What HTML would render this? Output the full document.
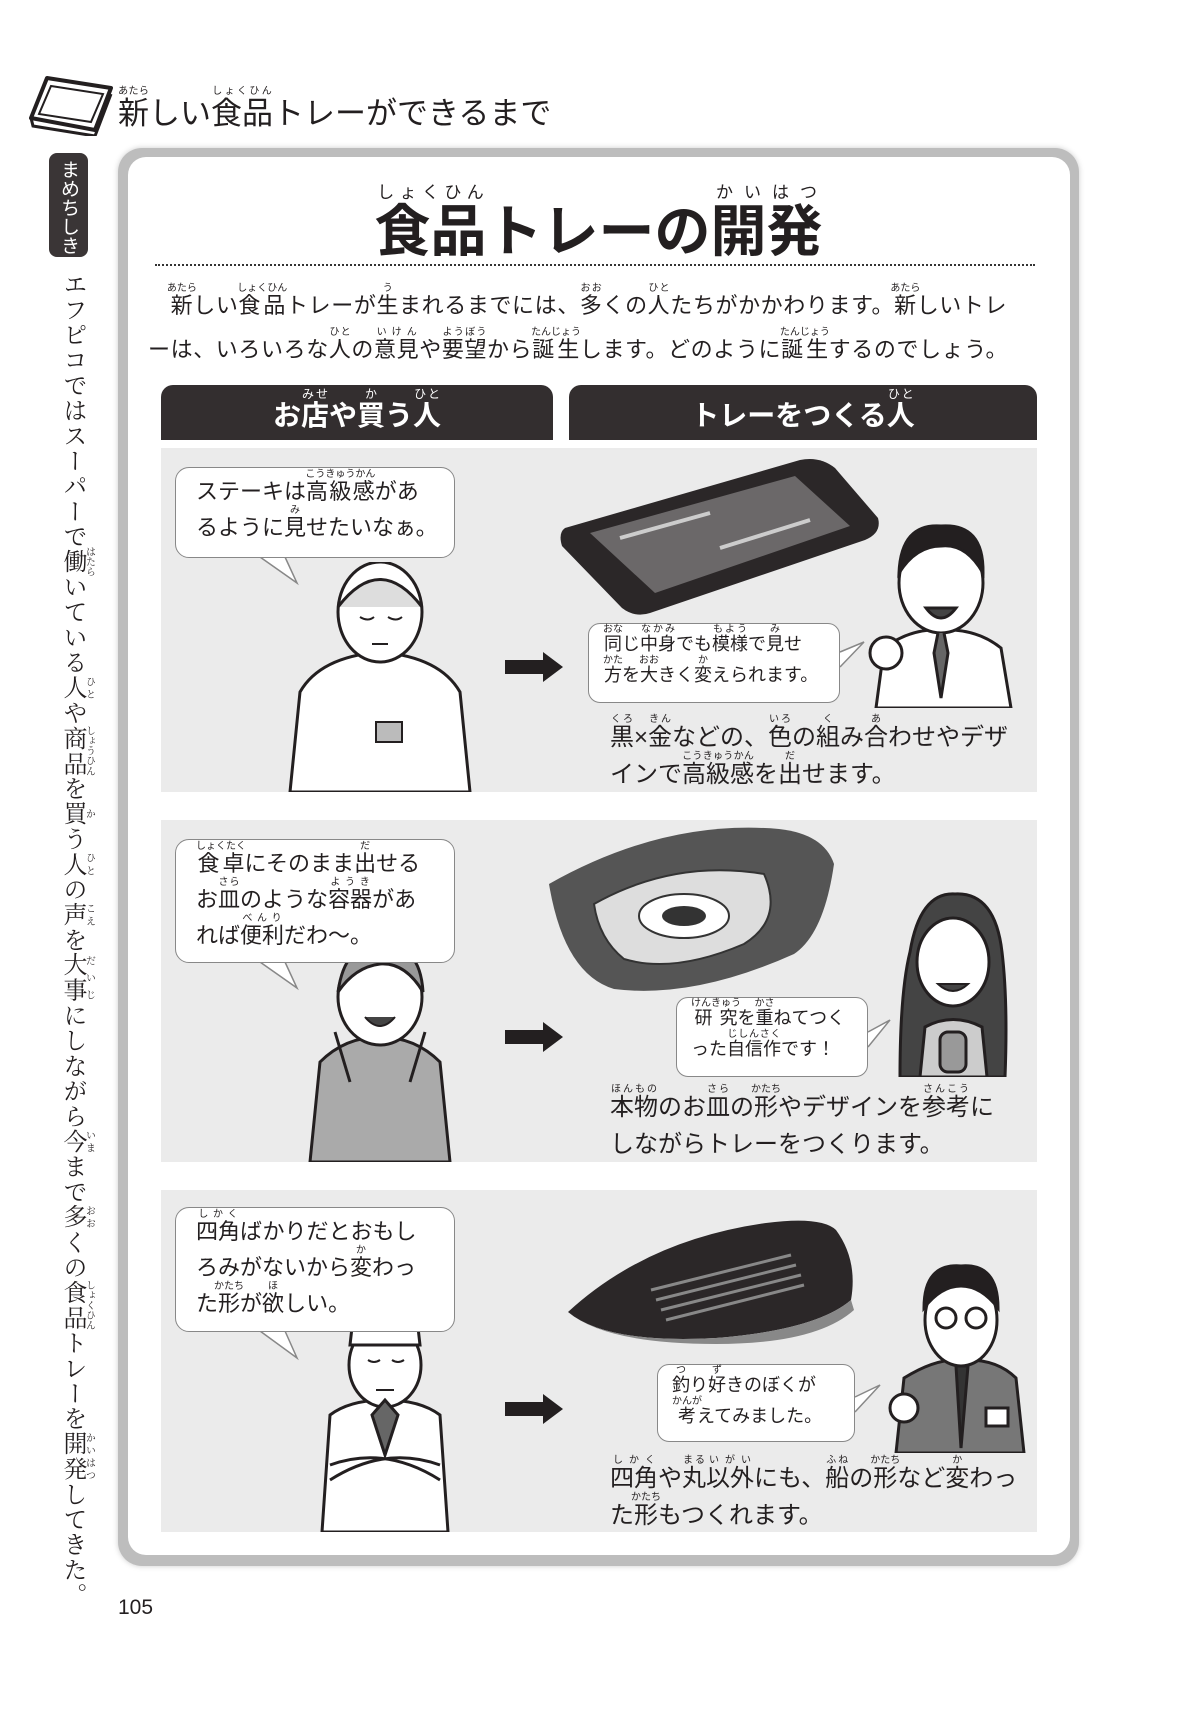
<!DOCTYPE html>
<html><head><meta charset="utf-8">
<style>
*{margin:0;padding:0;box-sizing:border-box}
body{width:1182px;height:1733px;background:#fff;position:relative;overflow:hidden;font-family:"Liberation Sans","Noto Sans CJK JP",sans-serif;color:#231f20}
.abs{position:absolute}
rt{font-size:10px;font-weight:normal;letter-spacing:0}
.title{left:118px;top:86px;font-size:31px;white-space:nowrap}
.tab{left:49px;top:153px;width:39px;height:104px;background:#3a3536;border-radius:8px;color:#fff;writing-mode:vertical-rl;font-size:19px;line-height:39px;text-align:center;padding-top:4px}
.vert{left:52px;top:272px;writing-mode:vertical-rl;font-family:"Liberation Serif","Noto Serif CJK SC",serif;font-size:24px;line-height:40px;height:1340px;white-space:nowrap;letter-spacing:1.2px}
.frame{left:118px;top:148px;width:961px;height:1418px;border-radius:24px;background:#bdbdbd;box-shadow:0 0 6px #ccc}
.inner{left:128px;top:157px;width:942px;height:1398px;border-radius:18px;background:#fff}
.h1{left:161px;width:875px;top:183px;text-align:center;font-size:56px;font-weight:bold;white-space:nowrap}
.h1 rt{font-size:17px}
.dots{left:155px;top:264px;width:880px;border-top:2px dotted #333}
.para{left:148px;top:283px;width:900px;font-size:22px;line-height:44px;white-space:nowrap;letter-spacing:0.6px}
.bar{top:385px;height:55px;background:#332e2f;color:#fff;font-size:28px;font-weight:bold;text-align:center;line-height:62px;border-radius:12px 12px 0 0}
.bar rt{font-size:12px}
.panel{left:161px;width:876px;background:#ebebeb}
.bub{background:#fff;border:1.5px solid #888;border-radius:14px;font-size:22px;line-height:36px;padding:6px 20px;white-space:nowrap}
.sb{background:#fff;border:1.5px solid #888;border-radius:12px;font-size:18px;line-height:31px;padding:4px 14px;white-space:nowrap}
.cap{font-size:24px;line-height:37px;white-space:nowrap}
.arrow{width:58px;height:30px}
</style></head><body>

<svg class="abs" style="left:25px;top:74px" width="90" height="62" viewBox="0 0 90 62">
<path d="M22 4 L86 14 L70 56 L6 44 Z" fill="#fff" stroke="#231f20" stroke-width="4" stroke-linejoin="round"/>
<path d="M26 12 L78 20 L66 48 L14 40 Z" fill="none" stroke="#231f20" stroke-width="2"/>
<path d="M6 44 L8 52 L70 62 L86 20" fill="none" stroke="#231f20" stroke-width="3"/>
</svg>
<div class="abs title"><ruby>新<rt>あたら</rt></ruby>しい<ruby>食品<rt>しょくひん</rt></ruby>トレーができるまで</div>

<div class="abs tab">まめちしき</div>
<div class="abs vert">エフピコではスーパーで<ruby>働<rt>はたら</rt></ruby>いている<ruby>人<rt>ひと</rt></ruby>や<ruby>商品<rt>しょうひん</rt></ruby>を<ruby>買<rt>か</rt></ruby>う<ruby>人<rt>ひと</rt></ruby>の<ruby>声<rt>こえ</rt></ruby>を<ruby>大事<rt>だいじ</rt></ruby>にしながら<ruby>今<rt>いま</rt></ruby>まで<ruby>多<rt>おお</rt></ruby>くの<ruby>食品<rt>しょくひん</rt></ruby>トレーを<ruby>開発<rt>かいはつ</rt></ruby>してきた。</div>

<div class="abs frame"></div>
<div class="abs inner"></div>

<div class="abs h1"><ruby>食品<rt>しょくひん</rt></ruby>トレーの<ruby>開発<rt>かいはつ</rt></ruby></div>
<div class="abs dots"></div>
<div class="abs para">　<ruby>新<rt>あたら</rt></ruby>しい<ruby>食品<rt>しょくひん</rt></ruby>トレーが<ruby>生<rt>う</rt></ruby>まれるまでには、<ruby>多<rt>おお</rt></ruby>くの<ruby>人<rt>ひと</rt></ruby>たちがかかわります。<ruby>新<rt>あたら</rt></ruby>しいトレ<br>ーは、いろいろな<ruby>人<rt>ひと</rt></ruby>の<ruby>意見<rt>いけん</rt></ruby>や<ruby>要望<rt>ようぼう</rt></ruby>から<ruby>誕生<rt>たんじょう</rt></ruby>します。どのように<ruby>誕生<rt>たんじょう</rt></ruby>するのでしょう。</div>

<div class="abs bar" style="left:161px;width:392px">お<ruby>店<rt>みせ</rt></ruby>や<ruby>買<rt>か</rt></ruby>う<ruby>人<rt>ひと</rt></ruby></div>
<div class="abs bar" style="left:569px;width:468px">トレーをつくる<ruby>人<rt>ひと</rt></ruby></div>

<div class="abs panel" style="top:448px;height:344px"></div>
<div class="abs panel" style="top:820px;height:342px"></div>
<div class="abs panel" style="top:1190px;height:342px"></div>

<svg class="abs" style="left:280px;top:562px" width="200" height="230" viewBox="0 0 200 230" fill="#fff" stroke="#231f20" stroke-width="3">
<path d="M10 230 L20 130 Q40 95 100 90 Q160 95 180 130 L190 230Z"/>
<ellipse cx="100" cy="50" rx="42" ry="50"/>
<path d="M58 45 Q100 -10 142 45" fill="#ddd"/>
<path d="M80 55 q8 5 14 0 M108 55 q8 5 14 0 M92 82 h16" fill="none" stroke-width="2"/>
<rect x="96" y="160" width="26" height="20" fill="#bbb" stroke-width="2"/>
</svg>
<svg class="abs" style="left:295px;top:942px" width="170" height="220" viewBox="0 0 170 220" fill="#fff" stroke="#231f20" stroke-width="3">
<path d="M15 220 L25 120 Q50 95 85 95 Q120 95 145 120 L155 220Z" fill="#aaa"/>
<ellipse cx="85" cy="55" rx="42" ry="48"/>
<path d="M43 50 Q50 0 85 5 Q125 0 128 50 Q110 20 85 22 Q60 25 43 50Z" fill="#999"/>
<path d="M40 90 L55 140 M130 90 L115 140" fill="none"/>
<path d="M70 75 q15 18 30 0" fill="#444" stroke-width="2"/>
</svg>
<svg class="abs" style="left:310px;top:1305px" width="150" height="227" viewBox="0 0 150 227" fill="#fff" stroke="#231f20" stroke-width="3">
<path d="M12 227 L20 110 Q40 95 75 95 Q110 95 130 110 L138 227Z"/>
<ellipse cx="75" cy="60" rx="36" ry="42"/>
<path d="M40 40 L44 5 Q75 -5 106 5 L110 40 Z" fill="#fff"/>
<path d="M75 95 L62 110 L75 150 L88 110Z" fill="#666"/>
<path d="M20 160 Q75 140 130 175 M130 160 Q75 140 20 175" fill="none"/>
<path d="M58 55 q6 4 12 0 M82 55 q6 4 12 0 M66 85 h18" fill="none" stroke-width="2"/>
</svg>

<svg class="abs" style="left:866px;top:518px" width="150" height="190" viewBox="0 0 150 190" fill="#fff" stroke="#231f20" stroke-width="3">
<path d="M10 190 L18 130 Q45 110 75 112 Q110 110 135 130 L145 190Z"/>
<ellipse cx="75" cy="65" rx="42" ry="50"/>
<path d="M33 55 Q35 5 75 8 Q118 5 117 55 Q100 25 75 28 Q50 28 33 55Z" fill="#231f20"/>
<path d="M60 90 q15 20 30 0Z" fill="#444"/>
<path d="M72 115 L68 135 L75 180 L82 135 L78 115" fill="#666"/>
<circle cx="20" cy="135" r="16"/>
</svg>
<svg class="abs" style="left:890px;top:892px" width="125" height="185" viewBox="0 0 125 185" fill="#fff" stroke="#231f20" stroke-width="3">
<path d="M10 185 Q10 100 20 60 Q30 0 65 2 Q105 0 112 60 Q118 110 115 185Z" fill="#444"/>
<ellipse cx="63" cy="70" rx="36" ry="44"/>
<path d="M30 185 L35 135 Q63 120 92 135 L97 185Z" fill="#ccc"/>
<path d="M48 92 q15 14 30 0Z" fill="#444" stroke-width="2"/>
<rect x="50" y="140" width="26" height="40" rx="8" fill="#999"/>
</svg>
<svg class="abs" style="left:886px;top:1258px" width="140" height="195" viewBox="0 0 140 195" fill="#fff" stroke="#231f20" stroke-width="3">
<path d="M10 195 L18 120 Q50 100 75 102 Q110 100 130 120 L138 195Z" fill="#777"/>
<ellipse cx="75" cy="62" rx="36" ry="46"/>
<path d="M38 50 Q38 5 75 8 Q112 5 112 50 Q95 28 75 28 Q55 28 38 50Z" fill="#231f20"/>
<circle cx="60" cy="60" r="10" fill="none"/><circle cx="90" cy="60" r="10" fill="none"/>
<path d="M70 108 L75 190 L82 108Z" fill="#333"/>
<rect x="100" y="150" width="22" height="18" fill="#fff"/>
<circle cx="18" cy="150" r="14"/>
</svg>

<svg class="abs" style="left:560px;top:458px" width="322" height="158" viewBox="0 0 322 158">
<path d="M5 70 L240 2 Q260 -2 275 10 L318 60 Q322 75 305 82 L90 155 Q75 160 62 150 L2 88 Q-2 75 5 70Z" fill="#2b2728"/>
<path d="M30 75 L235 18 L290 68 L95 135 Z" fill="#6b6869"/>
<path d="M60 80 L150 55 M160 90 L250 62" stroke="#ccc" stroke-width="4"/>
</svg>
<svg class="abs" style="left:544px;top:824px" width="292" height="170" viewBox="0 0 292 170">
<path d="M5 60 Q120 -5 235 5 Q280 10 290 40 Q280 110 250 130 Q150 175 70 165 Q20 150 5 60Z" fill="#555"/>
<path d="M50 80 Q130 35 220 50 Q240 95 200 120 Q130 150 80 135 Q55 115 50 80Z" fill="#ddd" stroke="#333" stroke-width="2"/>
<ellipse cx="140" cy="92" rx="45" ry="22" fill="#fff" stroke="#333" stroke-width="2"/>
<ellipse cx="140" cy="92" rx="22" ry="10" fill="#333"/>
</svg>
<svg class="abs" style="left:566px;top:1220px" width="292" height="124" viewBox="0 0 292 124">
<path d="M2 92 Q80 20 200 3 Q255 -4 270 10 Q292 40 285 80 Q250 110 150 118 Q40 124 2 92Z" fill="#2b2728"/>
<path d="M2 92 Q40 124 150 118 Q250 110 285 80 L288 90 Q250 124 150 124 Q40 124 2 92Z" fill="#888"/>
<g stroke="#888" stroke-width="3"><path d="M90 80 L230 45 M95 90 L235 55 M100 100 L238 65 M85 70 L225 35"/></g>
</svg>

<svg class="abs arrow" style="left:505px;top:652px" viewBox="0 0 58 30"><path d="M0 8 H38 V0 L58 15 L38 30 V22 H0Z" fill="#231f20"/></svg>
<svg class="abs arrow" style="left:505px;top:1022px" viewBox="0 0 58 30"><path d="M0 8 H38 V0 L58 15 L38 30 V22 H0Z" fill="#231f20"/></svg>
<svg class="abs arrow" style="left:505px;top:1394px" viewBox="0 0 58 30"><path d="M0 8 H38 V0 L58 15 L38 30 V22 H0Z" fill="#231f20"/></svg>

<svg class="abs" style="left:0;top:0" width="1182" height="1733" fill="#fff" stroke="#888" stroke-width="1.5">
<path d="M260 557 L297 583 L285 557"/>
<path d="M260 962 L297 988 L285 962"/>
<path d="M260 1331 L297 1358 L285 1331"/>
<path d="M840 652 L864 642 L840 667"/>
<path d="M868 1032 L890 1020 L868 1047"/>
<path d="M855 1397 L880 1385 L855 1412"/>
</svg>

<div class="abs bub" style="left:175px;top:467px;width:280px;height:91px">ステーキは<ruby>高級感<rt>こうきゅうかん</rt></ruby>があ<br>るように<ruby>見<rt>み</rt></ruby>せたいなぁ。</div>
<div class="abs bub" style="left:175px;top:839px;width:280px;height:124px"><ruby>食卓<rt>しょくたく</rt></ruby>にそのまま<ruby>出<rt>だ</rt></ruby>せる<br>お<ruby>皿<rt>さら</rt></ruby>のような<ruby>容器<rt>ようき</rt></ruby>があ<br>れば<ruby>便利<rt>べんり</rt></ruby>だわ〜。</div>
<div class="abs bub" style="left:175px;top:1207px;width:280px;height:125px"><ruby>四角<rt>しかく</rt></ruby>ばかりだとおもし<br>ろみがないから<ruby>変<rt>か</rt></ruby>わっ<br>た<ruby>形<rt>かたち</rt></ruby>が<ruby>欲<rt>ほ</rt></ruby>しい。</div>

<div class="abs sb" style="left:588px;top:623px;width:252px;height:80px"><ruby>同<rt>おな</rt></ruby>じ<ruby>中身<rt>なかみ</rt></ruby>でも<ruby>模様<rt>もよう</rt></ruby>で<ruby>見<rt>み</rt></ruby>せ<br><ruby>方<rt>かた</rt></ruby>を<ruby>大<rt>おお</rt></ruby>きく<ruby>変<rt>か</rt></ruby>えられます。</div>
<div class="abs sb" style="left:676px;top:997px;width:192px;height:80px"><ruby>研究<rt>けんきゅう</rt></ruby>を<ruby>重<rt>かさ</rt></ruby>ねてつく<br>った<ruby>自信作<rt>じしんさく</rt></ruby>です！</div>
<div class="abs sb" style="left:657px;top:1364px;width:198px;height:78px"><ruby>釣<rt>つ</rt></ruby>り<ruby>好<rt>ず</rt></ruby>きのぼくが<br><ruby>考<rt>かんが</rt></ruby>えてみました。</div>

<div class="abs cap" style="left:610px;top:714px"><ruby>黒<rt>くろ</rt></ruby>×<ruby>金<rt>きん</rt></ruby>などの、<ruby>色<rt>いろ</rt></ruby>の<ruby>組<rt>く</rt></ruby>み<ruby>合<rt>あ</rt></ruby>わせやデザ<br>インで<ruby>高級感<rt>こうきゅうかん</rt></ruby>を<ruby>出<rt>だ</rt></ruby>せます。</div>
<div class="abs cap" style="left:610px;top:1084px"><ruby>本物<rt>ほんもの</rt></ruby>のお<ruby>皿<rt>さら</rt></ruby>の<ruby>形<rt>かたち</rt></ruby>やデザインを<ruby>参考<rt>さんこう</rt></ruby>に<br>しながらトレーをつくります。</div>
<div class="abs cap" style="left:610px;top:1455px"><ruby>四角<rt>しかく</rt></ruby>や<ruby>丸<rt>まる</rt></ruby><ruby>以外<rt>いがい</rt></ruby>にも、<ruby>船<rt>ふね</rt></ruby>の<ruby>形<rt>かたち</rt></ruby>など<ruby>変<rt>か</rt></ruby>わっ<br>た<ruby>形<rt>かたち</rt></ruby>もつくれます。</div>

<div class="abs" style="left:118px;top:1596px;font-size:21px">105</div>
</body></html>
